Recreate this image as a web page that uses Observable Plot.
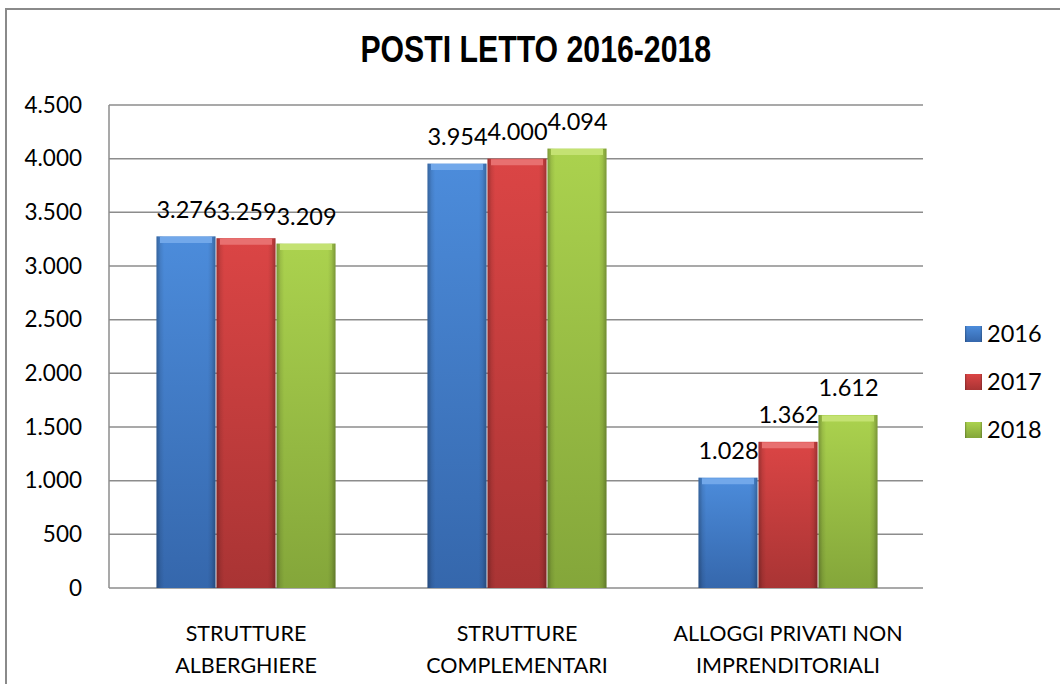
<!DOCTYPE html>
<html>
<head>
<meta charset="utf-8">
<script src="https://cdn.jsdelivr.net/npm/d3@7"></script>
<script src="https://cdn.jsdelivr.net/npm/@observablehq/plot@0.6"></script>
<style>
  body { margin: 0; background: #fff; }
  #chart { position: relative; width: 1060px; height: 684px; overflow: hidden; background: #fff; font-family: Lato, "Open Sans", sans-serif; }
  #frame { position: absolute; left: 5px; top: 8px; width: 1200px; height: 1000px; border-top: 2px solid #8a8a8a; border-left: 2px solid #8a8a8a; }
  #title { position: absolute; left: 0; top: 30px; width: 1072px; text-align: center; font-family: "Liberation Sans", Arial, sans-serif; font-weight: bold; font-size: 36px; line-height: 40px; color: #000; }
  #title span { display: inline-block; transform: scaleX(0.84); transform-origin: center; }
  #plot { position: absolute; left: 0; top: 80px; }
  #overlay { position: absolute; left: 0; top: 0; pointer-events: none; }
</style>
</head>
<body>
<div id="chart">
  <div id="frame"></div>
  <div id="title"><span>POSTI LETTO 2016-2018</span></div>
  <div id="plot"></div>
  <svg id="overlay" width="1060" height="684">
    <defs>
      <linearGradient id="g0" x1="0" y1="0" x2="0" y2="1">
        <stop offset="0" stop-color="#4c8cdb"/>
        <stop offset="1" stop-color="#3567ac"/>
      </linearGradient>
      <linearGradient id="g1" x1="0" y1="0" x2="0" y2="1">
        <stop offset="0" stop-color="#db4545"/>
        <stop offset="1" stop-color="#a93434"/>
      </linearGradient>
      <linearGradient id="g2" x1="0" y1="0" x2="0" y2="1">
        <stop offset="0" stop-color="#abd24e"/>
        <stop offset="1" stop-color="#84a63a"/>
      </linearGradient>
      <linearGradient id="edge" x1="0" y1="0" x2="1" y2="0">
        <stop offset="0" stop-color="#000" stop-opacity="0.28"/>
        <stop offset="0.07" stop-color="#000" stop-opacity="0.08"/>
        <stop offset="0.13" stop-color="#000" stop-opacity="0"/>
        <stop offset="0.87" stop-color="#000" stop-opacity="0"/>
        <stop offset="0.93" stop-color="#000" stop-opacity="0.08"/>
        <stop offset="1" stop-color="#000" stop-opacity="0.28"/>
      </linearGradient>
    </defs>
    <g id="legend"></g>
  </svg>
</div>
<script>
const categories = ["STRUTTURE ALBERGHIERE", "STRUTTURE COMPLEMENTARI", "ALLOGGI PRIVATI NON IMPRENDITORIALI"];
const categoryLabels = ["STRUTTURE\nALBERGHIERE", "STRUTTURE\nCOMPLEMENTARI", "ALLOGGI PRIVATI NON\nIMPRENDITORIALI"];
const years = ["2016", "2017", "2018"];
const values2016 = [3276, 3954, 1028];
const values2017 = [3259, 4000, 1362];
const values2018 = [3209, 4094, 1612];
const yTicks = [0, 500, 1000, 1500, 2000, 2500, 3000, 3500, 4000, 4500];

const fills = ["url(#g0)", "url(#g1)", "url(#g2)"];
const highlights = ["#72a8ea", "#e87070", "#c4e272"];

const series = [values2016, values2017, values2018];
const data = categories.flatMap((c, i) => years.map((y, j) => ({category: c, year: y, value: series[j][i], hi: highlights[j]})));

const it = d3.formatLocale({decimal: ",", thousands: ".", grouping: [3], currency: ["", "€"]});
const fmt = it.format(",d");

const W = 1060, H = 604, ML = 109, MR = 137, MT = 25, MB = 96;

// y grid, axis line and tick labels spanning the whole plot area (drawn once, via the y scale)
function yAxisRender(index, scales, values, dim, context) {
  const g = d3.create("svg:g");
  const x0 = ML, x1 = W - MR;
  const y = scales.y;
  g.selectAll("line.grid").data(yTicks).join("line")
    .attr("x1", x0).attr("x2", x1)
    .attr("y1", d => y(d)).attr("y2", d => y(d))
    .attr("stroke", "#8c8c8c").attr("stroke-width", 1.5);
  g.append("line")
    .attr("x1", x0).attr("x2", x0)
    .attr("y1", y(yTicks[yTicks.length - 1])).attr("y2", y(0))
    .attr("stroke", "#8c8c8c").attr("stroke-width", 1.5);
  g.selectAll("text").data(yTicks).join("text")
    .attr("x", x0 - 27).attr("y", d => y(d)).attr("dy", "0.34em")
    .attr("text-anchor", "end").attr("font-size", 22.5).attr("fill", "#000")
    .text(d => fmt(d));
  return g.node();
}

const chart = Plot.plot({
  width: W,
  height: H,
  marginTop: MT,
  marginBottom: MB,
  marginLeft: ML,
  marginRight: MR,
  style: {fontFamily: "Lato, 'Open Sans', sans-serif", color: "#000", background: "transparent", overflow: "visible"},
  fx: {domain: categories, paddingInner: 1/3, paddingOuter: 1/6, axis: null, label: null},
  x: {domain: years, padding: 0, axis: null},
  y: {domain: [0, 4500], axis: null},
  color: {domain: years, range: fills},
  marks: [
    Plot.frame({facet: "super", stroke: "none", render: yAxisRender}),
    Plot.barY(data, {fx: "category", x: "year", y: "value", fill: "year", insetLeft: 0.5, insetRight: 0.5}),
    Plot.barY(data, {fx: "category", x: "year", y: "value", fill: "url(#edge)", insetLeft: 0.5, insetRight: 0.5}),
    Plot.tickY(data, {fx: "category", x: "year", y: "value", stroke: {value: "hi", scale: null}, strokeWidth: 6, dy: 3, insetLeft: 4, insetRight: 4}),
    Plot.text(data, {fx: "category", x: "year", y: "value", text: d => fmt(d.value), dy: -19, lineAnchor: "bottom", fontSize: 23.5, fill: "#000"}),
    Plot.text(categories, {fx: d => d, text: (d, i) => categoryLabels[i], frameAnchor: "bottom", lineAnchor: "top", dy: 29, lineHeight: 1.52, fontSize: 21.5, fill: "#000"})
  ]
});
document.getElementById("plot").appendChild(chart);

// legend
const lg = d3.select("#legend");
years.forEach((y, i) => {
  const base = 342 + i * 48;
  lg.append("rect").attr("x", 965).attr("y", base - 16).attr("width", 17).attr("height", 16).attr("fill", fills[i]);
  lg.append("rect").attr("x", 965).attr("y", base - 16).attr("width", 17).attr("height", 16).attr("fill", "url(#edge)");
  lg.append("text").attr("x", 987).attr("y", base).attr("font-size", 23.5).attr("font-family", "Lato, 'Open Sans', sans-serif").attr("fill", "#000").text(y);
});
</script>
</body>
</html>
